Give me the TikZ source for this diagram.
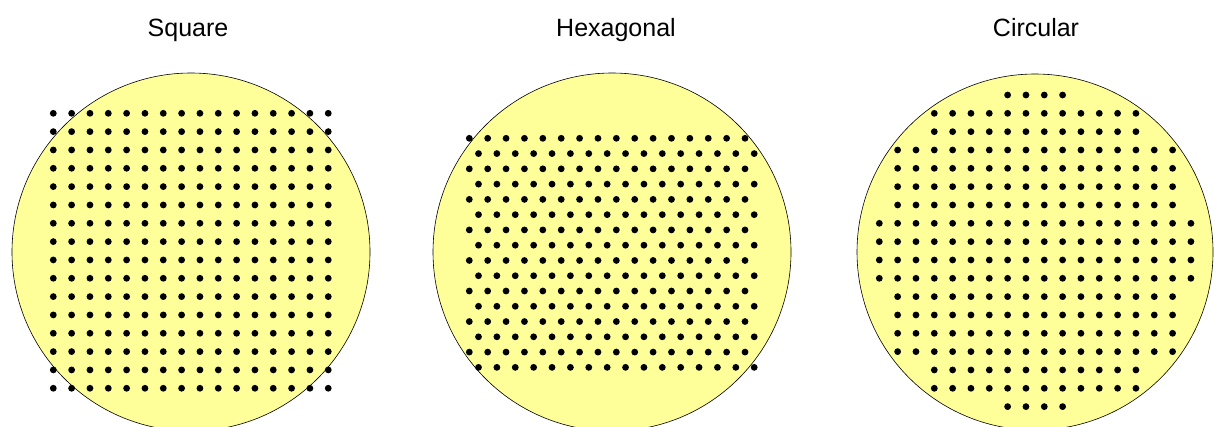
\documentclass[tikz,border=0pt]{standalone}
\usepackage{fontspec}
\setmainfont{Liberation Sans}
\definecolor{waferyellow}{HTML}{FFFF99}

\begin{document}
\begin{tikzpicture}[
        x=1pt,y=-1pt,
        wafer/.style={fill=waferyellow,draw=black,line width=0.6pt},
        pin/.style={fill=black},
        title/.style={anchor=base,inner sep=0pt,font=\fontsize{25}{30}\selectfont}
      ]
      \useasboundingbox (0,0) rectangle (1214,426);
      \clip (0,0) rectangle (1214,426);
      % titles
      \node (sqtitle) [title] at (188,36) {Square};
      \node (hextitle) [title] at (616,36) {Hexagonal};
      \node (circtitle) [title] at (1036,36) {Circular};
      % wafers
      \draw[wafer] (191,252) circle [radius=179pt];
      \draw[wafer] (612,252) circle [radius=179pt];
      \draw[wafer] (1035,252) circle [radius=178pt];
      % square grid
      \foreach \i in {0,...,15}
        \foreach \j in {0,...,15}
          \fill[pin] (53.3+\i*18.33,113.3+\j*18.33) circle [radius=3.4pt];
      % hexagonal grid
      \foreach \j in {0,...,15} {
        \pgfmathsetmacro{\shift}{mod(\j,2)*9.2}
        \foreach \i in {0,...,15}
          \fill[pin] (469.3+\shift+\i*18.38,138.3+\j*15.27) circle [radius=3.4pt];
      }
      % circular grid
      \foreach \j/\a/\b in {0/7/10,1/3/14,2/3/14,3/1/16,4/1/16,5/1/16,6/1/16,
          7/0/17,8/0/17,9/0/17,10/0/17,11/1/16,12/1/16,13/1/16,14/1/16,
          15/3/14,16/3/14,17/7/10}
        \foreach \i in {\a,...,\b}
          \fill[pin] (879.3+\i*18.33,95+\j*18.33) circle [radius=3.4pt];
    \end{tikzpicture}
\end{document}
